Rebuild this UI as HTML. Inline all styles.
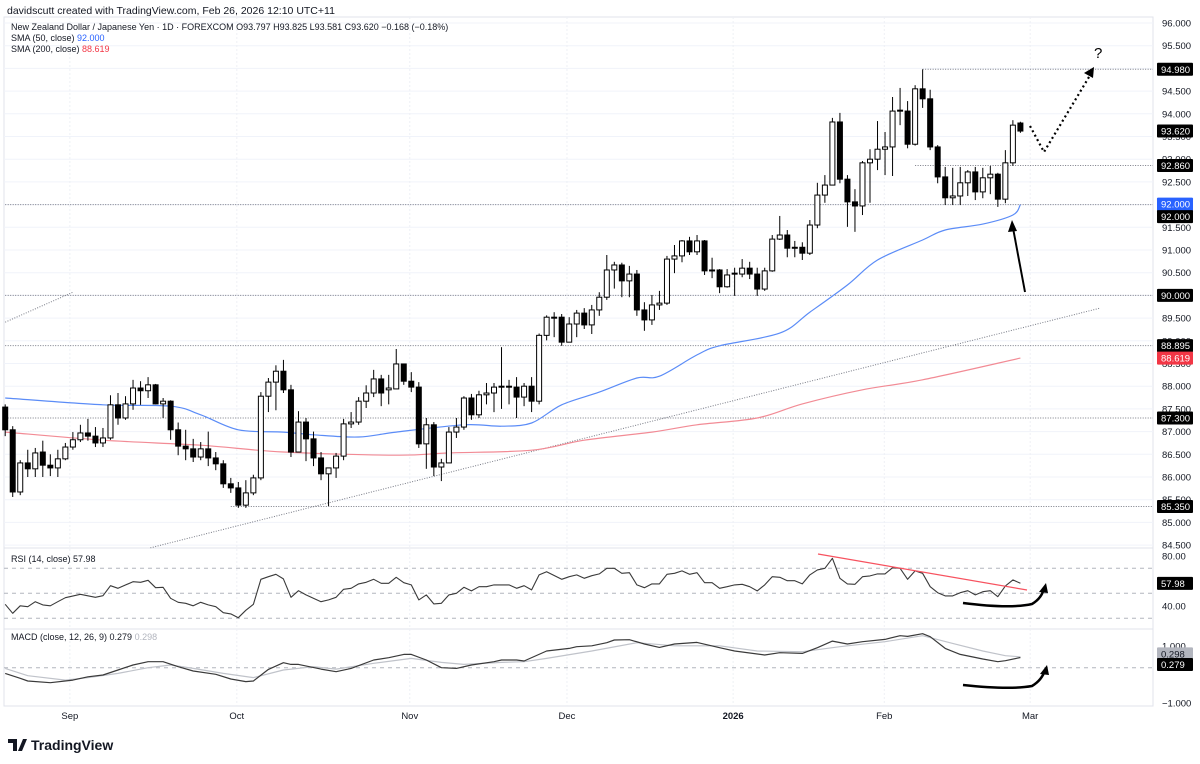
<!DOCTYPE html>
<html><head><meta charset="utf-8">
<style>
html,body{margin:0;padding:0;background:#fff;}
svg{display:block;font-family:"Liberation Sans",sans-serif;}
.ax{font-size:9.5px;fill:#131722;}
</style></head>
<body>
<svg id="chart" width="1200" height="764" viewBox="0 0 1200 764">
<rect x="0" y="0" width="1200" height="764" fill="#fff"/>
<text x="7" y="14" font-size="10.5" fill="#131722">davidscutt created with TradingView.com, Feb 26, 2026 12:10 UTC+11</text>
<g id="grid"></g>
<g id="levels"></g>
<g id="sma"></g>
<g id="candles"></g>
<g id="osc"></g>
<g id="axis"></g>
<g id="ann">
  <polyline points="1030,126 1044,152 1092,72" fill="none" stroke="#000" stroke-width="2.2" stroke-dasharray="2,3"/>
  <polygon points="1094,67 1084,73 1093,78" fill="#000"/>
  <text x="1094" y="58" font-size="15" fill="#000">?</text>
  <line x1="1025" y1="292" x2="1013" y2="228" stroke="#000" stroke-width="2"/>
  <polygon points="1012,220 1008,232 1017,231" fill="#000"/>
  <line x1="818" y1="554" x2="1027" y2="590" stroke="#f7525f" stroke-width="1.3"/>
  <path d="M963,603 Q1010,609 1032,604 Q1042,598 1044,588" fill="none" stroke="#000" stroke-width="2.5"/>
  <polygon points="1046,583 1039,592 1048,593" fill="#000"/>
  <path d="M963,685 Q1010,690 1032,686 Q1042,680 1045,670" fill="none" stroke="#000" stroke-width="2.5"/>
  <polygon points="1047,665 1040,674 1049,675" fill="#000"/>
</g>
<g id="legend">
  <text x="11" y="30" font-size="9" fill="#131722">New Zealand Dollar / Japanese Yen · 1D · FOREXCOM  O93.797  H93.825  L93.581  C93.620  −0.168 (−0.18%)</text>
  <text x="11" y="41" font-size="9" fill="#131722">SMA (50, close) <tspan fill="#2962ff">92.000</tspan></text>
  <text x="11" y="52" font-size="9" fill="#131722">SMA (200, close) <tspan fill="#f23645">88.619</tspan></text>
  <text x="11" y="562" font-size="9" fill="#131722">RSI (14, close)  57.98</text>
  <text x="11" y="640" font-size="9" fill="#131722">MACD (close, 12, 26, 9)  0.279 <tspan fill="#b2b5be">0.298</tspan></text>
</g>
<g id="time"></g>
<g>
  <path d="M8,739 h9 v12 h-4 v-8 h-5z M18,751 l5,-12 h4 l-5,12z" fill="#131722"/>
  <text x="31" y="750" font-size="14" font-weight="bold" fill="#131722">TradingView</text>
</g>
</svg>
<script>
const opens=[87.54,87.04,85.67,86.31,86.18,86.55,86.26,86.2,86.4,86.66,86.82,86.97,86.9,86.75,86.86,87.59,87.3,87.61,87.96,87.9,88.03,87.61,87.67,87.04,86.68,86.62,86.44,86.62,86.42,86.29,85.85,85.76,85.38,85.65,85.98,87.78,88.09,88.33,87.92,86.55,87.21,86.84,86.42,86.07,86.2,86.46,87.17,87.21,87.67,87.85,88.16,87.92,87.94,88.49,88.11,87.98,86.73,87.15,86.22,86.31,86.99,87.1,87.74,87.37,87.81,87.85,87.98,88.0,87.98,87.76,88.0,87.67,89.12,89.5,89.52,88.97,89.37,89.61,89.35,89.68,89.96,90.56,90.67,90.32,90.47,89.68,89.46,89.79,89.83,90.8,90.87,91.2,90.96,91.2,90.54,90.56,90.19,90.47,90.47,90.6,90.47,90.14,90.54,91.24,91.33,91.04,91.06,90.93,91.55,92.21,92.43,93.82,92.56,92.06,91.97,92.92,93.0,93.22,93.27,94.06,94.06,93.33,94.55,94.33,93.27,92.61,92.15,92.19,92.48,92.72,92.28,92.59,92.67,92.12,92.92,93.797];
const highs=[87.6,87.12,86.37,86.6,86.64,86.8,86.5,86.6,86.75,86.99,87.15,87.28,87.1,87.08,87.8,87.85,87.78,88.14,88.11,88.2,88.05,87.74,87.69,87.2,87.04,86.84,86.77,87.0,86.55,86.37,85.98,85.89,85.93,86.05,87.87,88.18,88.46,88.58,88.03,87.45,87.3,87.0,86.55,86.18,86.53,87.28,87.43,87.76,88.02,88.36,88.25,88.25,88.82,88.49,88.31,88.09,87.3,87.21,86.4,87.1,87.3,87.78,87.83,87.9,88.07,88.07,88.86,88.14,88.2,88.07,88.2,89.16,89.56,89.63,89.59,89.52,89.68,89.72,89.79,90.07,90.89,90.74,90.72,90.65,90.56,89.85,90.01,90.1,90.87,91.11,91.22,91.29,91.33,91.22,90.83,90.58,90.58,90.61,90.8,90.74,90.61,90.61,91.33,91.75,91.44,91.2,91.17,91.66,92.48,92.65,93.91,94.02,92.65,92.34,92.96,93.22,93.84,93.6,94.37,94.57,94.28,94.63,94.98,94.53,93.31,92.83,92.81,92.83,92.76,92.83,92.81,92.85,92.7,93.2,93.86,93.825];
const lows=[86.9,85.56,85.6,86.0,86.0,86.0,86.02,86.0,86.37,86.6,86.77,86.8,86.66,86.66,86.82,87.15,87.26,87.48,87.59,87.74,87.6,87.3,86.82,86.48,86.37,86.33,86.37,86.24,86.15,85.76,85.65,85.32,85.32,85.6,85.93,87.43,87.47,87.85,86.44,86.55,86.35,86.24,85.93,85.36,85.98,86.37,87.08,87.15,87.52,87.76,87.56,87.6,87.94,88.03,87.87,86.64,86.18,86.02,85.91,86.31,86.86,87.04,87.26,87.3,87.6,87.43,87.5,87.6,87.3,87.56,87.43,87.6,89.01,89.08,88.89,88.97,89.08,89.26,89.15,89.55,89.9,90.15,89.96,89.96,89.55,89.22,89.35,89.68,89.79,90.49,90.73,90.89,90.89,90.45,90.38,90.05,90.17,89.99,90.4,90.36,89.99,90.1,90.52,91.22,90.84,90.84,90.78,90.89,91.48,92.04,92.43,92.47,91.51,91.4,91.77,92.04,92.76,92.65,92.63,93.75,93.24,93.3,94.13,93.2,92.47,91.99,91.99,91.99,92.19,92.1,92.14,92.23,91.95,92.03,92.85,93.581];
const closes=[87.04,85.67,86.31,86.18,86.53,86.26,86.2,86.4,86.66,86.82,86.97,86.9,86.75,86.86,87.59,87.3,87.61,87.96,87.9,88.03,87.61,87.67,87.04,86.68,86.62,86.44,86.62,86.42,86.29,85.85,85.76,85.38,85.65,85.98,87.78,88.09,88.33,87.92,86.55,87.21,86.84,86.42,86.07,86.2,86.46,87.17,87.21,87.67,87.85,88.16,87.85,87.96,88.49,88.11,87.98,86.73,87.15,86.22,86.31,86.99,87.1,87.74,87.37,87.81,87.85,87.98,88.0,87.98,87.76,88.0,87.67,89.12,89.52,89.52,88.97,89.37,89.61,89.35,89.68,89.96,90.56,90.67,90.32,90.47,89.68,89.46,89.79,89.83,90.8,90.87,91.2,90.96,91.2,90.54,90.56,90.19,90.45,90.49,90.6,90.47,90.14,90.54,91.24,91.33,91.04,91.06,90.93,91.55,92.21,92.43,93.82,92.56,92.06,91.97,92.92,93.0,93.22,93.27,94.06,94.08,93.33,94.55,94.33,93.27,92.61,92.15,92.19,92.48,92.72,92.28,92.59,92.67,92.12,92.92,93.75,93.62];
const sma50Idx=[0,13,22,26,31,37,41,47,52,61,66,70,74,79,84,87,92,95,103,107,112,116,122,125,130,134,135];
const sma50Val=[87.74,87.59,87.56,87.37,87.04,86.99,86.93,86.88,86.99,87.15,87.12,87.19,87.59,87.87,88.18,88.22,88.69,88.89,89.17,89.63,90.23,90.78,91.22,91.44,91.57,91.77,92.0];
const sma200Idx=[0,13,26,37,52,59,70,77,86,92,100,106,114,122,135];
const sma200Val=[86.99,86.81,86.70,86.55,86.48,86.53,86.59,86.81,86.99,87.15,87.30,87.61,87.92,88.14,88.619];
const rsiIdx=[0,1,2,3,4,5,6,7,8,10,12,13,14,15,17,18,19,20,21,22,23,24,25,26,27,28,29,30,31,32,33,34,35,36,37,38,39,40,42,43,44,45,46,47,48,49,50,51,52,53,54,55,56,57,58,59,60,61,62,63,64,65,67,68,69,70,71,72,74,75,76,77,78,79,80,81,82,83,84,85,86,87,88,89,90,91,92,93,94,95,96,97,98,99,100,101,102,103,104,105,106,107,108,109,110,111,112,113,114,115,116,117,118,119,120,121,122,123,124,125,126,127,128,129,130,131,132,133,134,135];
const rsiVal=[41.2,34,40,39.3,43.3,40.7,40,43.3,46.5,49.2,46.8,48.1,56.1,54,59.3,58.8,60.4,54.5,54.8,46,42.8,42,40,42.8,40.7,39.3,34.5,33.5,30.5,36.4,41.2,61.2,63.3,65.2,61.5,46.8,52.1,48.7,43.3,44.7,46.8,53.2,54,57.5,58.8,61.2,58,58,62.8,58.5,56.7,44.7,48.7,41.5,42,48.7,50,54.8,51.9,55.3,55.3,56.7,56.7,54,56.1,52.7,64.7,67.3,61.2,63.3,64.7,62,64.1,65.5,70,70,66,66.5,56.7,54.5,57.5,57.5,65.2,66,67.9,65.2,66.5,58.5,58.5,54,55.3,56.7,57.2,55.3,51.9,56.7,63.3,62.8,60.1,60.1,57.5,64.7,68.7,70,78,62,57.5,57.2,63.3,63.9,65.5,65.5,70.5,70,61.2,67.9,66,55.3,50.5,47.9,47.9,50.5,52.1,48.7,51.3,52.1,47.3,55.9,60.7,57.98];
const macdIdx=[0,2,3,6,9,11,13,15,17,19,21,23,25,28,30,32,33,35,37,38,39,42,44,46,49,51,53,54,56,58,60,62,65,66,68,69,72,75,76,78,80,81,83,85,87,89,92,95,97,101,103,106,108,110,112,114,117,119,120,122,123,125,127,130,132,133,135];
const macdVal=[-0.155,-0.29,-0.365,-0.41,-0.34,-0.25,-0.2,-0.064,0.073,0.164,0.164,0.027,-0.09,-0.18,-0.31,-0.38,-0.365,-0.046,0.137,0.09,0.09,-0.037,-0.11,-0.018,0.21,0.274,0.365,0.365,0.21,0,-0.018,0.073,0.164,0.21,0.21,0.183,0.457,0.53,0.575,0.6,0.685,0.758,0.767,0.648,0.557,0.648,0.694,0.548,0.457,0.347,0.411,0.393,0.548,0.73,0.648,0.712,0.776,0.877,0.858,0.932,0.85,0.53,0.365,0.237,0.164,0.192,0.279];
const signalIdx=[0,3,8,11,15,19,22,25,29,33,37,41,44,49,54,58,61,66,69,72,78,84,89,95,100,106,111,117,122,126,130,133,135];
const signalVal=[-0.018,-0.22,-0.34,-0.27,-0.155,0,0.073,-0.018,-0.155,-0.27,-0.064,0.027,-0.037,0.12,0.256,0.146,0.09,0.146,0.164,0.256,0.457,0.685,0.6,0.6,0.457,0.438,0.575,0.712,0.877,0.667,0.457,0.33,0.298];
const priceTicks=[96,95.5,95,94.5,94,93.5,93,92.5,92,91.5,91,90.5,90,89.5,89,88.5,88,87.5,87,86.5,86,85.5,85,84.5];
const hLevels=[94.98,92.86,92.0,90.0,88.895,87.3,85.35];
const hLevelStart=[122,121,0,0,0,0,30];
const trendIdx=[19.3,145.6];
const trendVal=[84.44,89.72];
const trend2Idx=[0,9];
const trend2Val=[89.41,90.07];
const monthLabels=["Sep","Oct","Nov","Dec","2026","Feb","Mar"];
const monthIdx=[8.6,30.8,53.8,74.7,96.8,116.9,136.3];

const NS="http://www.w3.org/2000/svg";
const xI=i=>5.2+i*7.52;
const yP=p=>23+(96-p)*45.4;
const yR=v=>593.3-(v-50)*1.25;
const yM=v=>667.7-v*36.5;
const R=1153;
function mk(parent,tag,attrs){const e=document.createElementNS(NS,tag);for(const k in attrs)e.setAttribute(k,attrs[k]);document.getElementById(parent).appendChild(e);return e;}

[[4,17,R,548],[4,548,R,629],[4,629,R,706]].forEach((b,k)=>{
  const r=mk('grid','rect',{x:b[0],y:b[1],width:b[2]-b[0],height:b[3]-b[1],fill:'none',stroke:'#e0e3eb','stroke-width':1});
  
  
});
priceTicks.forEach(p=>{
  const l=mk('grid','line',{x1:4,x2:R,y1:yP(p),y2:yP(p),stroke:'#f0f3fa'});
  
  
});
monthIdx.forEach(i=>{
  const l=mk('grid','line',{x1:xI(i),x2:xI(i),y1:17,y2:706,stroke:'#eef0f5','stroke-dasharray':'2,2'});
  
  
});
[70,50,30].forEach(v=>{
  const l=mk('osc','line',{x1:4,x2:R,y1:yR(v),y2:yR(v),stroke:'#b2b5be','stroke-dasharray':'4,4'});
  
  
});
const z=mk('osc','line',{x1:4,x2:R,y1:yM(0),y2:yM(0),stroke:'#b2b5be','stroke-dasharray':'4,4'});



hLevels.forEach((p,k)=>{
  const l=mk('levels','line',{x1:xI(hLevelStart[k]),x2:R,y1:yP(p),y2:yP(p),stroke:'#787b86','stroke-width':1,'stroke-dasharray':'1,1.5'});
  
  
});
[[trendIdx,trendVal],[trend2Idx,trend2Val]].forEach(t=>{
  const l=mk('levels','line',{x1:xI(t[0][0]),y1:yP(t[1][0]),x2:xI(t[0][1]),y2:yP(t[1][1]),stroke:'#787b86','stroke-dasharray':'1,1.5'});
  
  
});

function poly(parent,idx,vals,fy,color,w,name){
  const pts=idx.map((i,k)=>xI(i).toFixed(1)+','+fy(vals[k]).toFixed(1)).join(' ');
  const e=mk(parent,'polyline',{points:pts,fill:'none',stroke:color,'stroke-width':w,'stroke-linejoin':'round'});
  
  
}
function smooth(parent,idx,vals,fy,color,w,name){
  const P=idx.map((i,k)=>[xI(i),fy(vals[k])]);
  let d='M'+P[0][0].toFixed(1)+','+P[0][1].toFixed(1);
  for(let k=0;k<P.length-1;k++){
    const p0=P[Math.max(0,k-1)],p1=P[k],p2=P[k+1],p3=P[Math.min(P.length-1,k+2)];
    const c1=[p1[0]+(p2[0]-p0[0])/6,p1[1]+(p2[1]-p0[1])/6];
    const c2=[p2[0]-(p3[0]-p1[0])/6,p2[1]-(p3[1]-p1[1])/6];
    d+=' C'+c1[0].toFixed(1)+','+c1[1].toFixed(1)+' '+c2[0].toFixed(1)+','+c2[1].toFixed(1)+' '+p2[0].toFixed(1)+','+p2[1].toFixed(1);
  }
  const e=mk(parent,'path',{d:d,fill:'none',stroke:color,'stroke-width':w});
  
  
}
smooth('sma',sma50Idx,sma50Val,yP,'#5b8cf7',1.2,'sma50-line');
smooth('sma',sma200Idx,sma200Val,yP,'#f28b95',1.2,'sma200-line');

opens.forEach((o,i)=>{
  const c=closes[i],x=xI(i),up=c>=o;
  const w=mk('candles','line',{x1:x,x2:x,y1:yP(highs[i]),y2:yP(lows[i]),stroke:'#000','stroke-width':1});
  
  
  const top=yP(Math.max(o,c)),bot=yP(Math.min(o,c));
  const b=mk('candles','rect',{x:x-2.5,y:top,width:5,height:Math.max(1,bot-top),fill:up?'#fff':'#000',stroke:'#000','stroke-width':1});
  
  
});

poly('osc',rsiIdx,rsiVal,yR,'#3a3a3a',1.1,'rsi-line');
poly('osc',signalIdx,signalVal,yM,'#c0c3ca',1.2,'macd-signal-line');
poly('osc',macdIdx,macdVal,yM,'#3a3a3a',1.2,'macd-line');

priceTicks.forEach(p=>{
  const t=mk('axis','text',{x:1162,y:yP(p)+3.5,class:'ax'});
  t.textContent=p.toFixed(3);
  
  
});
[[80,'80.00'],[40,'40.00']].forEach(a=>{
  const t=mk('axis','text',{x:1162,y:yR(a[0])+3.5,class:'ax'});t.textContent=a[1];
  
  
});
[[0.59,'1.000'],[0,'0.000'],[-0.97,'−1.000']].forEach(a=>{
  const t=mk('axis','text',{x:1162,y:yM(a[0])+3.5,class:'ax'});t.textContent=a[1];
  
  
});
function tag(y,txt,bg,fg,name){
  const r=mk('axis','rect',{x:1157,y:y-6.5,width:36,height:13,fill:bg,rx:1});
  
  
  const t=mk('axis','text',{x:1161,y:y+3.5,'font-size':'9.5px',fill:fg});
  t.textContent=txt;
  
  
}
hLevels.forEach(p=>tag(yP(p),p.toFixed(3),'#000','#fff','level-tag'));
tag(yP(closes[closes.length-1]),closes[closes.length-1].toFixed(3),'#000','#fff','last-price-tag');
tag(yP(sma50Val[sma50Val.length-1])-0.5,sma50Val[sma50Val.length-1].toFixed(3),'#2962ff','#fff','sma50-tag');
tag(yP(92.0)+12,'92.000','#000','#fff','level-tag-92');
tag(yP(sma200Val[sma200Val.length-1]),sma200Val[sma200Val.length-1].toFixed(3),'#f23645','#fff','sma200-tag');
tag(yR(rsiVal[rsiVal.length-1]),rsiVal[rsiVal.length-1].toFixed(2),'#000','#fff','rsi-value-tag');
tag(yM(signalVal[signalVal.length-1])-3,signalVal[signalVal.length-1].toFixed(3),'#b2b5be','#131722','macd-signal-tag');
tag(yM(macdVal[macdVal.length-1])+7,macdVal[macdVal.length-1].toFixed(3),'#000','#fff','macd-value-tag');

monthLabels.forEach((m,k)=>{
  const t=mk('time','text',{x:xI(monthIdx[k]),y:719,'font-size':'9.5px',fill:'#131722','text-anchor':'middle','font-weight':m==='2026'?'bold':'normal'});
  t.textContent=m;
  
  
});
</script>
</body></html>
